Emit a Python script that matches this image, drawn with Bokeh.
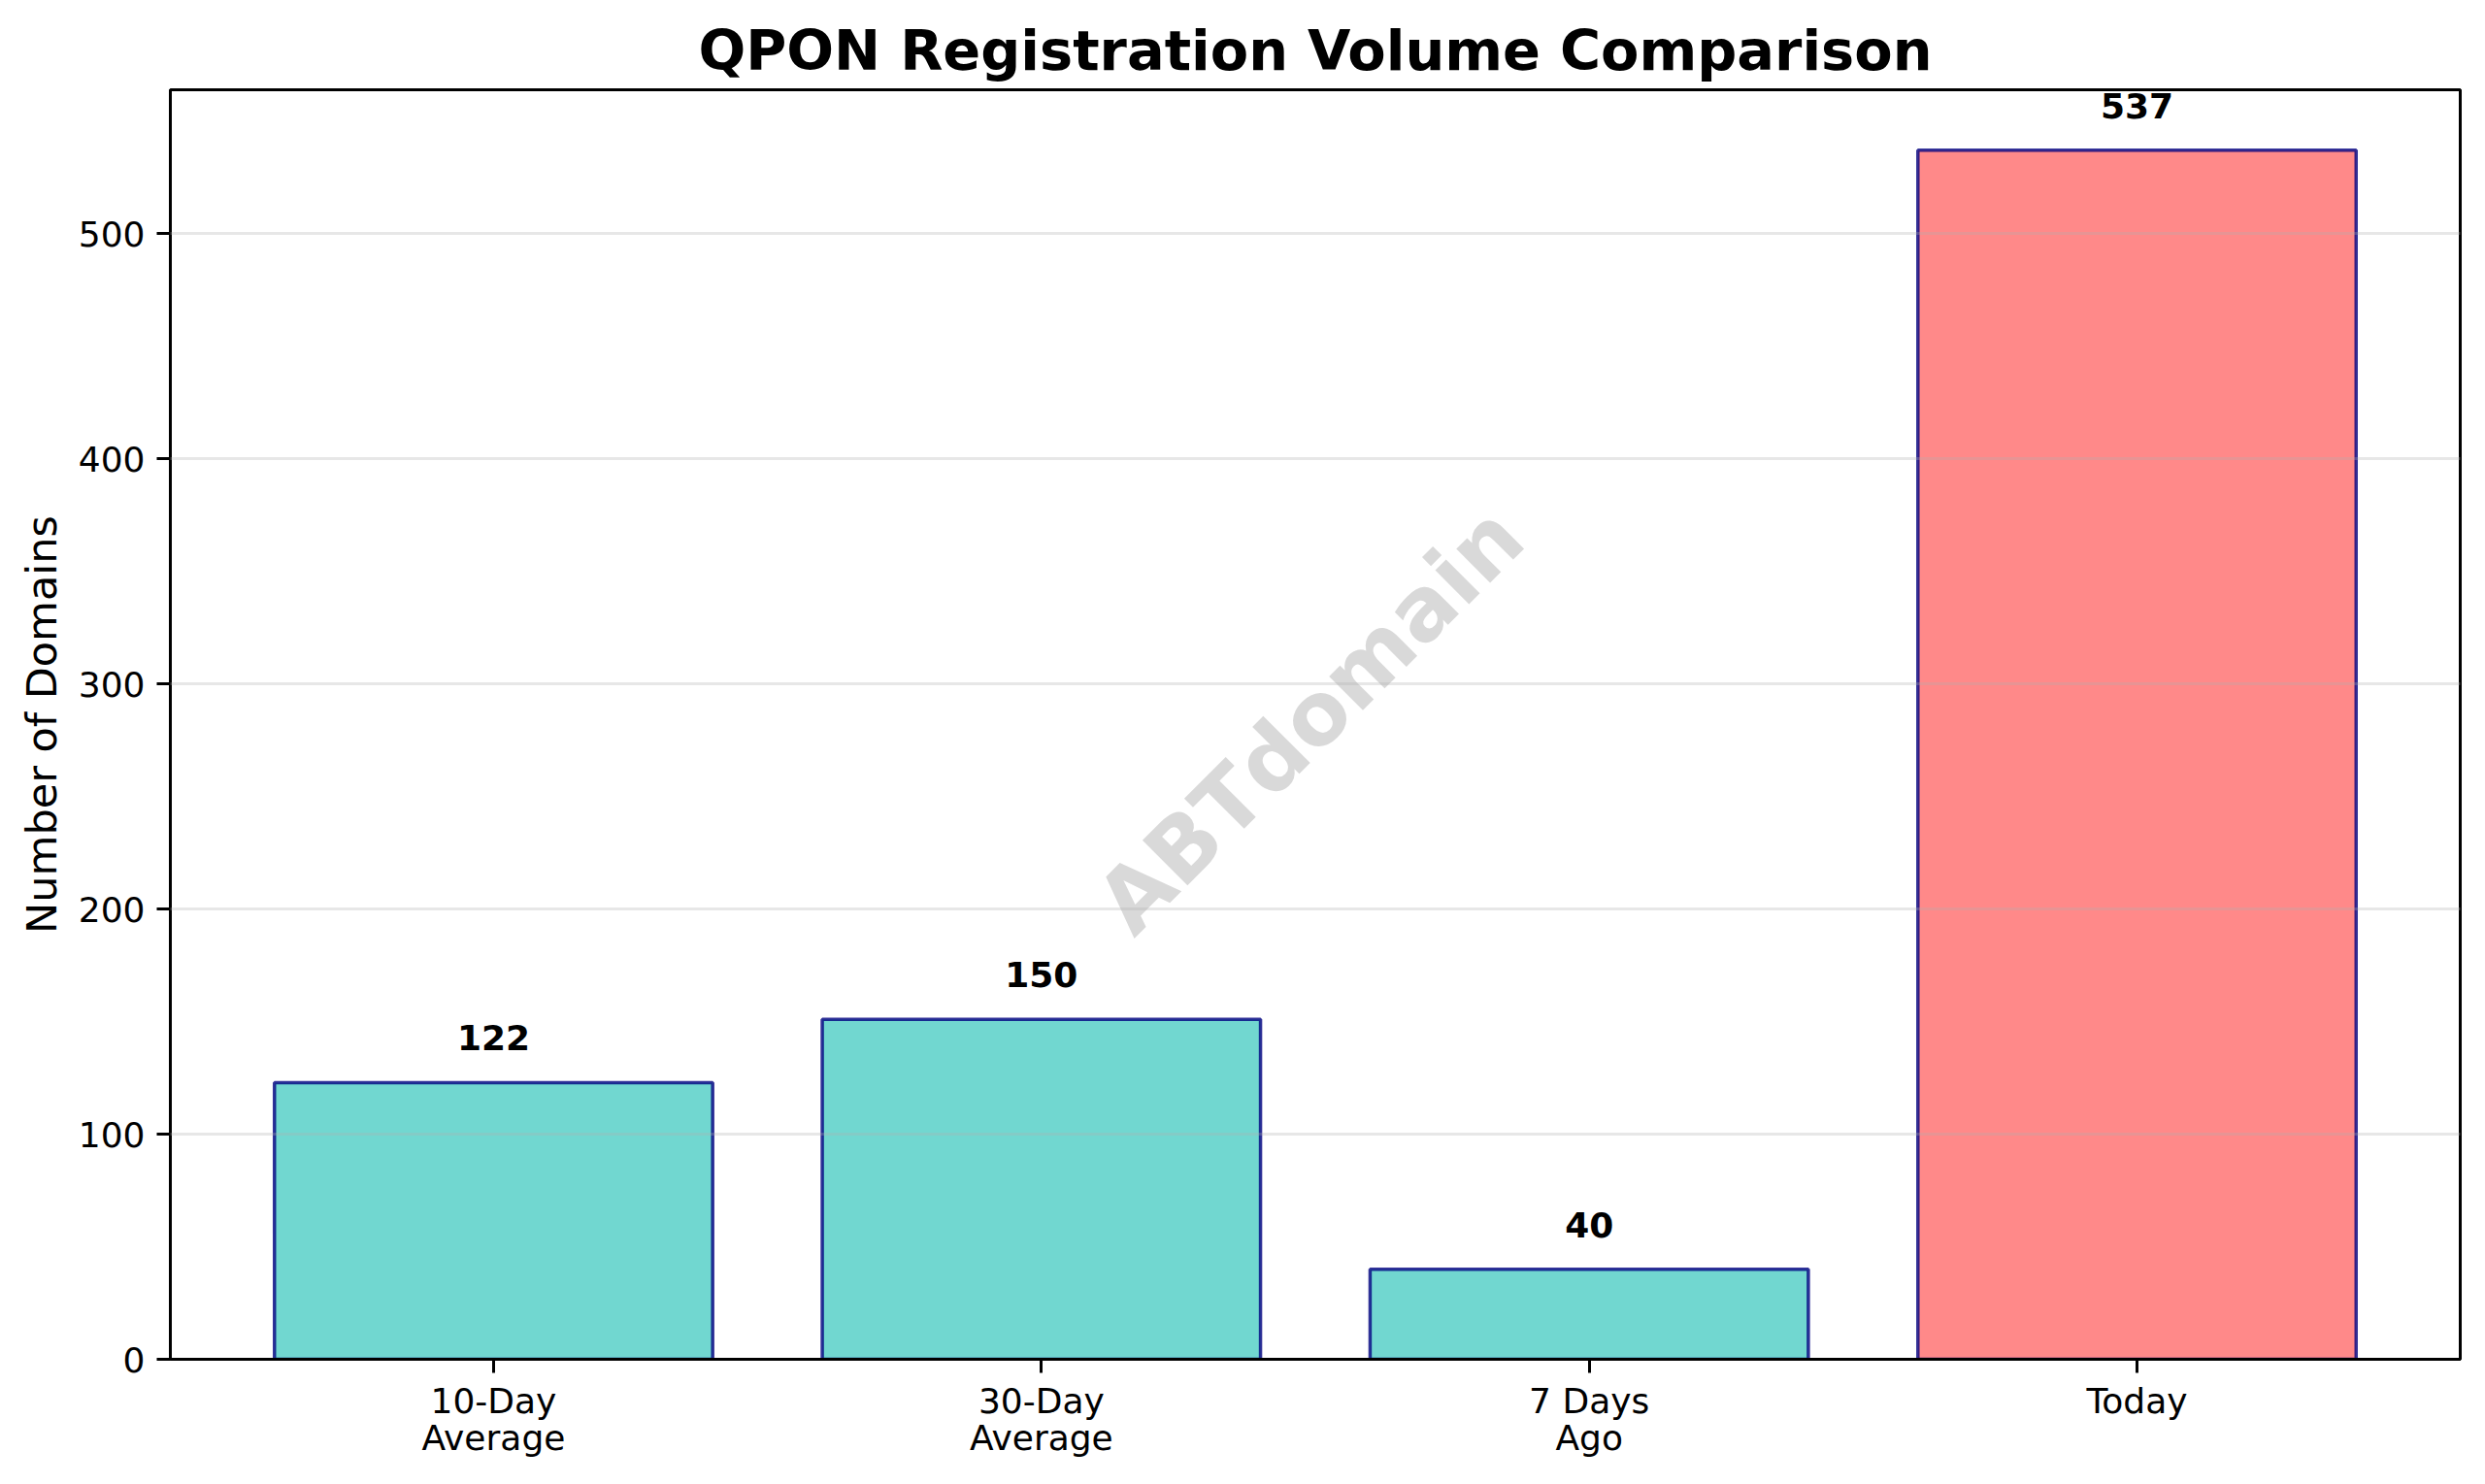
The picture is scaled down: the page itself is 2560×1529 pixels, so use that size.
from bokeh.plotting import figure
from bokeh.models import ColumnDataSource, FixedTicker, Label
from bokeh.core.properties import value
from bokeh.embed import file_html
from bokeh.resources import INLINE

categories = ["10-Day\nAverage", "30-Day\nAverage", "7 Days\nAgo", "Today"]
positions = [0, 1, 2, 3]
bar_values = [122.9, 151.0, 40.0, 537.0]
value_labels = ["122", "150", "40", "537"]
bar_colors = ["#4ECDC4", "#4ECDC4", "#4ECDC4", "#FF6B6B"]
y_ticks = [0, 100, 200, 300, 400, 500]

FONT = "DejaVu Sans"
source = ColumnDataSource(dict(x=positions, top=bar_values, label=value_labels, color=bar_colors))

p = figure(width=2544, height=1513, x_range=(-0.59, 3.59), y_range=(0, 563.85),
           output_backend="svg", toolbar_location=None,
           min_border_left=175, min_border_right=10, min_border_top=92, min_border_bottom=113,
           title="QPON Registration Volume Comparison")
p.frame_width = 2359
p.frame_height = 1308

p.title.text_font = FONT
p.title.text_font_size = "57.4px"
p.title.text_font_style = "bold"
p.title.align = "center"
p.title.text_color = "black"
p.title.standoff = 13

p.vbar(x="x", top="top", width=0.8, bottom=0, source=source, fill_color="color", fill_alpha=0.8,
       line_color="navy", line_alpha=0.8, line_width=3.5)
p.text(x="x", y="top", text="label", source=source, text_align="center", text_baseline="alphabetic",
       y_offset=-46, text_font=value(FONT), text_font_size=value("36px"), text_font_style="bold", text_color="black")

p.add_layout(Label(x=1.49, y=284.0, text="ABTdomain", angle=45, angle_units="deg",
                   text_align="center", text_baseline="middle", text_font=FONT, text_font_size="90px",
                   text_font_style="bold", text_color="gray", text_alpha=0.3))

p.xgrid.visible = False
p.ygrid.ticker = FixedTicker(ticks=y_ticks)
p.ygrid.grid_line_color = "#b0b0b0"
p.ygrid.grid_line_alpha = 0.3
p.ygrid.grid_line_width = 3
p.ygrid.level = "overlay"

p.xaxis.ticker = FixedTicker(ticks=positions)
p.xaxis.major_label_overrides = {i: c for i, c in zip(positions, categories)}
p.yaxis.ticker = FixedTicker(ticks=y_ticks)
p.yaxis.axis_label = "Number of Domains"
p.yaxis.axis_label_text_font = FONT
p.yaxis.axis_label_text_font_size = "43px"
p.yaxis.axis_label_text_font_style = "normal"
p.yaxis.axis_label_text_color = "black"
p.yaxis.axis_label_standoff = 10

for ax in (p.xaxis, p.yaxis):
    ax.major_label_text_font = FONT
    ax.major_label_text_font_size = "36px"
    ax.major_label_text_color = "black"
    ax.major_label_text_line_height = 0.95
    ax.major_label_standoff = 12
    ax.axis_line_color = "black"
    ax.axis_line_width = 3
    ax.major_tick_line_color = "black"
    ax.major_tick_line_width = 3
    ax.major_tick_in = 0
    ax.major_tick_out = 14
    ax.minor_tick_line_color = None
p.xaxis.major_label_standoff = 8

p.outline_line_color = "black"
p.outline_line_width = 3
p.outline_line_alpha = 1
p.background_fill_color = "white"

open("out.html", "w").write(file_html(p, INLINE))
